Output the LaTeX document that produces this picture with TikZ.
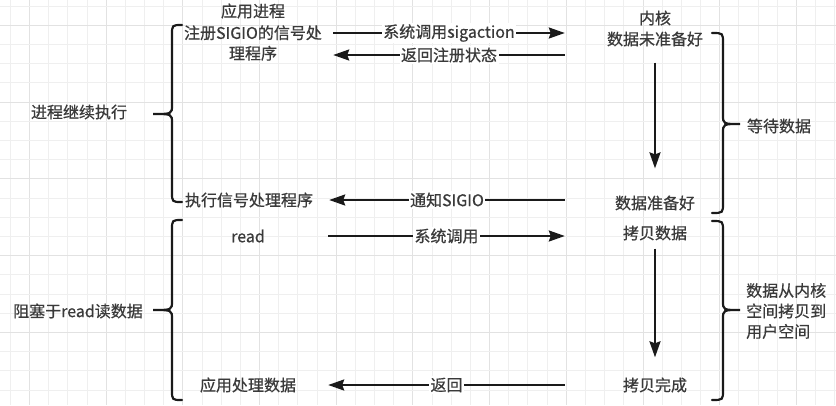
\documentclass[tikz,border=0pt]{standalone}
\usepackage{fontspec}
\setmainfont{Noto Sans CJK SC}[FakeBold=0.6]
\usetikzlibrary{arrows.meta}

\definecolor{txt}{HTML}{3A3A3A}
\definecolor{ink}{HTML}{1A1A1A}
\definecolor{gridminor}{HTML}{EFEFEF}
\definecolor{gridmajor}{HTML}{E2E2E2}

\tikzset{
  lbl/.style={text=txt, font=\fontsize{16}{20.5}\selectfont, inner sep=0pt},
  appcol/.style={lbl, minimum width=160pt},
  kerncol/.style={lbl, minimum width=180pt},
  bracket/.style={line width=2.2pt, draw=ink, line cap=round},
  flow/.style={line width=2.2pt, draw=ink, -{Stealth[length=16pt, width=11pt, inset=2pt]}},
  tag/.style={lbl, fill=white, inner sep=1.5pt},
}

% ends x, spine x, tip x, top y, bottom y, middle y
\newcommand{\curly}[6]{%
  \draw[bracket] (#1,#4) .. controls (#2,#4) .. (#2,#4+10) -- (#2,#6-9)
    .. controls (#2,#6) .. (#3,#6) .. controls (#2,#6) .. (#2,#6+9)
    -- (#2,#5-10) .. controls (#2,#5) .. (#1,#5);}

\begin{document}
\begin{tikzpicture}[x=1pt, y=-1pt]
\useasboundingbox[fill=white] (0,0) rectangle (836,405);

% background grid
\foreach \i in {0,...,43}{
  \pgfmathparse{mod(\i,4)==1 ? "gridmajor" : "gridminor"}
  \draw[\pgfmathresult, line width=1pt] (10.4+19.17*\i,0) -- (10.4+19.17*\i,405);
}
\foreach \j in {0,...,20}{
  \pgfmathparse{mod(\j,4)==1 ? "gridmajor" : "gridminor"}
  \draw[\pgfmathresult, line width=1pt] (0,6+19.2*\j) -- (836,6+19.2*\j);
}

% application side
\node[lbl] (app) at (253,11) {应用进程};
\node[appcol, align=center] (reg) at (253,43) {注册SIGIO的信号处\\理程序};
\node[appcol] (exec) at (249,200) {执行信号处理程序};
\node[appcol] (read) at (248,236) {read};
\node[appcol] (use) at (248,385) {应用处理数据};

% kernel side
\node[lbl] (kern) at (655,18) {内核};
\node[kerncol] (nodata) at (655,39) {数据未准备好};
\node[kerncol] (ready) at (655,203) {数据准备好};
\node[kerncol] (copy) at (655,233) {拷贝数据};
\node[kerncol] (done) at (655,385) {拷贝完成};

% side labels
\node[lbl] (cont) at (79,112) {进程继续执行};
\node[lbl] (block) at (78,311) {阻塞于read读数据};
\node[lbl] (wait) at (779,126) {等待数据};
\node[lbl, anchor=west, align=left] (move) at (746,311) {数据从内核\\空间拷贝到\\用户空间};

% braces
\curly{182}{172}{153}{25}{202}{114}
\curly{182}{172}{153}{220}{400}{310}
\curly{712}{723}{740}{33}{213}{124}
\curly{712}{723}{740}{221}{400}{310}

% messages
\coordinate (sigL) at ([yshift=10pt]reg.east);
\coordinate (retL) at ([yshift=-12pt]reg.east);
\draw[flow] (sigL) -- (sigL -| nodata.west) node[tag, midway] {系统调用sigaction};
\draw[flow] (retL -| nodata.west) -- (retL) node[tag, midway] {返回注册状态};
\draw[flow] (exec.east -| ready.west) -- (exec.east) node[tag, midway] {通知SIGIO};
\draw[flow] (read.east) -- (read.east -| copy.west) node[tag, midway] {系统调用};
\draw[flow] (done.west) -- (use.east) node[tag, midway] {返回};

% kernel progress
\draw[flow, shorten <=16pt, shorten >=27pt] (nodata) -- (ready);
\draw[flow, shorten <=8pt, shorten >=20pt] (copy) -- (done);

\end{tikzpicture}
\end{document}
